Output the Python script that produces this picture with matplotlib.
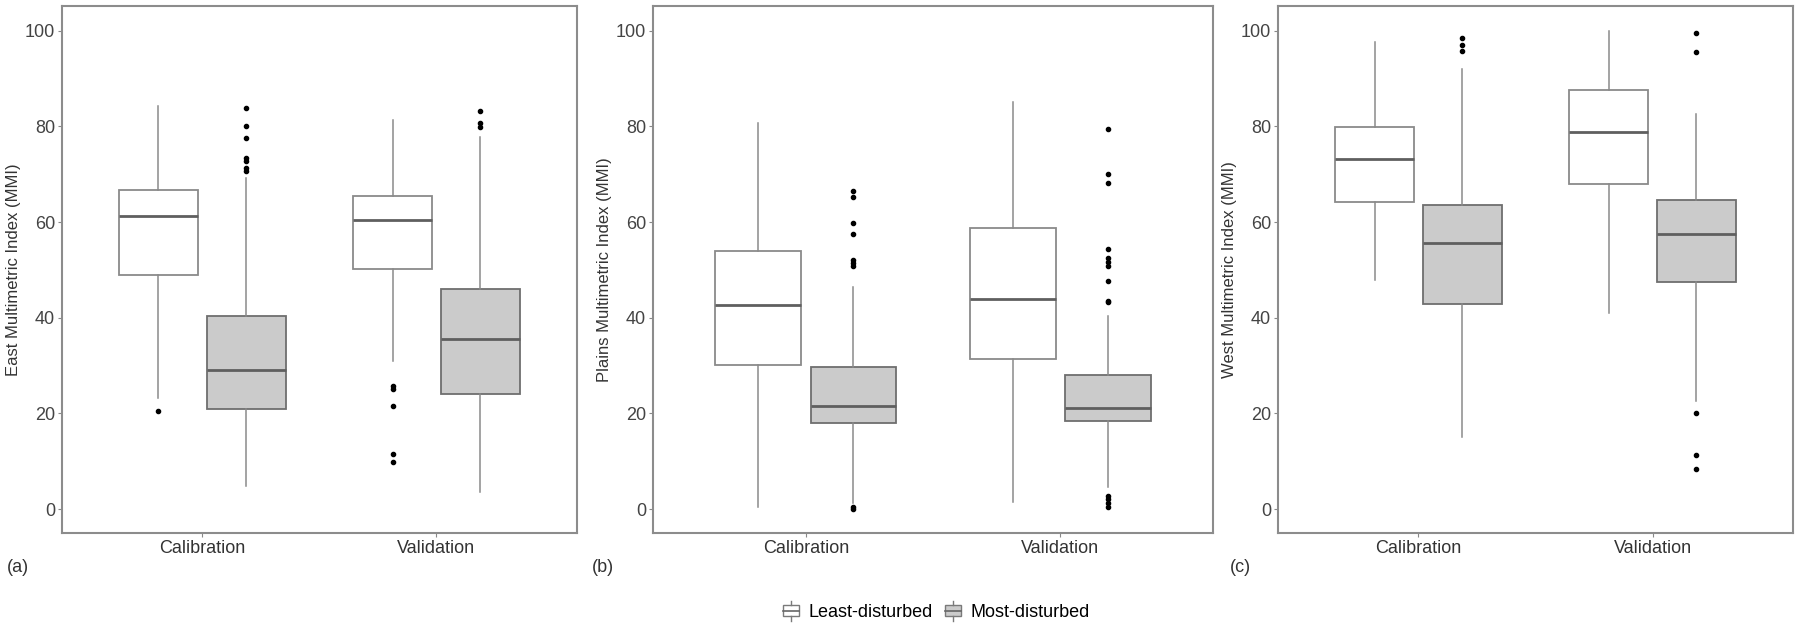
import numpy as np
import matplotlib.pyplot as plt
from matplotlib.legend_handler import HandlerBase
from matplotlib.patches import Rectangle, Patch
from matplotlib.lines import Line2D

plt.rcParams['font.family'] = ['Liberation Sans', 'DejaVu Sans']

groups = ["Calibration", "Validation"]
conditions = ["Least-disturbed", "Most-disturbed"]
panel_tags = ["(a)", "(b)", "(c)"]
y_titles = ["East Multimetric Index (MMI)",
            "Plains Multimetric Index (MMI)",
            "West Multimetric Index (MMI)"]

# summaries per group: [whisker low, Q1, median, Q3, whisker high]
east_least = [[23.2, 49.0, 61.2, 66.7, 84.3], [31.0, 50.2, 60.4, 65.4, 81.4]]
east_most = [[4.8, 21.0, 29.0, 40.4, 69.2], [3.5, 24.1, 35.5, 46.1, 77.8]]
east_least_out = [[20.6], [25.8, 25.2, 21.6, 11.6, 9.8]]
east_most_out = [[83.9, 80.0, 77.5, 73.4, 72.7, 71.4, 70.6], [83.2, 80.7, 79.9]]

plains_least = [[0.4, 30.2, 42.6, 53.9, 80.8], [1.4, 31.3, 44.0, 58.7, 85.1]]
plains_most = [[1.2, 18.0, 21.6, 29.8, 46.5], [4.6, 18.5, 21.1, 28.1, 40.4]]
plains_least_out = [[], []]
plains_most_out = [[66.5, 65.2, 59.8, 57.6, 52.0, 51.5, 50.8, 0.5, 0.1],
                   [79.4, 70.1, 68.1, 54.3, 52.4, 51.6, 50.8, 47.7, 43.6, 43.2,
                    2.8, 2.1, 1.3, 0.4]]

west_least = [[47.8, 64.3, 73.2, 79.9, 97.7], [40.9, 68.0, 78.9, 87.6, 100.0]]
west_most = [[15.1, 42.8, 55.7, 63.5, 92.0], [22.7, 47.4, 57.5, 64.7, 82.5]]
west_least_out = [[], []]
west_most_out = [[98.4, 97.1, 95.8], [99.6, 95.5, 20.0, 11.4, 8.4]]

panels = [
    (east_least, east_most, east_least_out, east_most_out),
    (plains_least, plains_most, plains_least_out, plains_most_out),
    (west_least, west_most, west_least_out, west_most_out),
]

fills = ["white", "#cbcbcb"]
edges = ["#8a8a8a", "#6e6e6e"]


def make_stats(summary, outliers):
    lo, q1, med, q3, hi = summary
    return dict(whislo=lo, q1=q1, med=med, q3=q3, whishi=hi,
                fliers=np.array(outliers))


class BoxGlyph(HandlerBase):
    def create_artists(self, legend, orig_handle, xdescent, ydescent,
                       width, height, fontsize, trans):
        face = orig_handle.get_facecolor()
        cx = width / 2 - xdescent
        bw = width * 0.9
        y0 = -ydescent
        box = Rectangle((cx - bw / 2, y0 + height * 0.22), bw, height * 0.56,
                        facecolor=face, edgecolor="#7a7a7a", lw=1.0,
                        transform=trans)
        med = Line2D([cx - bw / 2, cx + bw / 2], [y0 + height * 0.5] * 2,
                     color="#666666", lw=1.2, transform=trans)
        top = Line2D([cx, cx], [y0 + height * 0.78, y0 + height * 1.0],
                     color="#7a7a7a", lw=1.0, transform=trans)
        bot = Line2D([cx, cx], [y0, y0 + height * 0.22],
                     color="#7a7a7a", lw=1.0, transform=trans)
        return [box, med, top, bot]


fig = plt.figure(figsize=(18, 6.29), dpi=100)
bottom, height = 0.1526, 0.838
lefts = [0.0344, 0.3628, 0.71]
widths = [0.2861, 0.3111, 0.2861]
tag_x = [0.004, 0.329, 0.683]

dodge = 0.1875
box_w = 0.3375

for k, (least, most, least_out, most_out) in enumerate(panels):
    ax = fig.add_axes([lefts[k], bottom, widths[k], height])
    for c, (summ, outs) in enumerate([(least, least_out), (most, most_out)]):
        stats = [make_stats(summ[g], outs[g]) for g in range(len(groups))]
        pos = np.arange(1, len(groups) + 1) + (dodge if c else -dodge)
        ax.bxp(stats, positions=pos, widths=box_w, patch_artist=True,
               showcaps=False,
               boxprops=dict(facecolor=fills[c], edgecolor=edges[c], lw=1.3),
               medianprops=dict(color="#5f5f5f", lw=2.0),
               whiskerprops=dict(color="#8a8a8a", lw=1.1),
               flierprops=dict(marker="o", markersize=3.0,
                               markerfacecolor="black",
                               markeredgecolor="black"))
    ax.set_xlim(0.4, 2.6)
    ax.set_ylim(-5, 105.2)
    ax.set_xticks([1, 2])
    ax.set_xticklabels(groups, fontsize=13, color="#333333")
    ax.set_yticks(range(0, 101, 20))
    ax.set_yticklabels([str(v) for v in range(0, 101, 20)],
                       fontsize=13, color="#444444")
    ax.tick_params(length=3, width=0.8, color="#888888", pad=2)
    ax.set_ylabel(y_titles[k], fontsize=12, color="#333333", labelpad=3)
    for sp in ax.spines.values():
        sp.set_color("#8c8c8c")
        sp.set_linewidth(1.5)
    fig.text(tag_x[k], 1 - 568 / 629, panel_tags[k], fontsize=13,
             color="#333333", va="center", ha="left")

handles = [Patch(facecolor=f) for f in fills]
fig.legend(handles, conditions, loc="center", bbox_to_anchor=(0.52, 1 - 611 / 629),
           ncol=2, frameon=False, fontsize=13, handlelength=1.0, handleheight=1.3,
           handletextpad=0.5, columnspacing=0.6,
           handler_map={Patch: BoxGlyph()})

plt.savefig("out.png", dpi=100)
